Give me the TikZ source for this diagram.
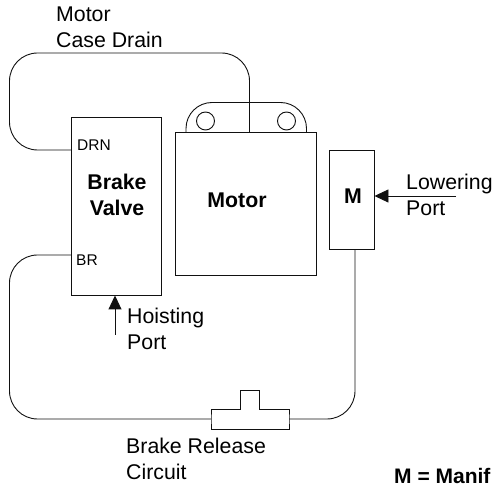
\documentclass[tikz,border=0pt]{standalone}
\usepackage{fontspec}
\setmainfont{Liberation Sans}
\usetikzlibrary{positioning,arrows.meta}
\definecolor{ink}{HTML}{111111}
\tikzset{
  block/.style={rectangle, draw=ink, line width=0.9pt, inner sep=0pt},
  title/.style={inner sep=0pt, font=\fontsize{21.3}{25.7}\selectfont\bfseries, align=center},
  port/.style={inner sep=0pt, font=\fontsize{15.5}{18}\selectfont, anchor=west},
  tag/.style={inner sep=0pt, font=\fontsize{21.3}{25.5}\selectfont, align=left, anchor=north west},
  pipe/.style={draw=ink, line width=0.9pt, rounded corners=28pt},
  feed/.style={-{Triangle[length=14pt,width=13pt]}, draw=ink, line width=0.9pt},
  lug/.style={circle, draw=ink, line width=0.9pt, minimum size=18pt, inner sep=0pt}
}
\begin{document}
\begin{tikzpicture}[x=1pt,y=-1pt]
\useasboundingbox (0,0) rectangle (493,486);
\node[block, minimum width=90pt, minimum height=178pt] (valve) at (116.5,206) {};
\node[block, minimum width=141pt, minimum height=143pt] (motor) at (246,203.5) {};
\node[block, minimum width=45pt, minimum height=99pt] (man) at (351.5,200) {};
\node[title] (vname) at (117,195) {Brake\\Valve};
\node[title] (mname) at (237,200) {Motor};
\node[title] (mlet) at (353,196) {M};
\node[port] (drn) at (77,145) {DRN};
\node[port] (br) at (76,260) {BR};
% motor lugs
\node[lug] (lugl) at (205.5,121) {};
\node[lug] (lugr) at (286.5,121) {};
\coordinate (topl) at (186,132);
\coordinate (topr) at (306.5,132);
\draw[draw=ink, line width=0.9pt, rounded corners=26pt] (topl) -- (186,102.5) -- (306.5,102.5) -- (topr);
% fitting on the brake circuit
\coordinate (teel) at (211,419);
\coordinate (teer) at (289,419);
\draw[draw=ink, line width=0.9pt] (teel) |- (240,409.5) |- (259.5,390) |- (289,409.5) -- (teer) |- (211,429) -- cycle;
% lines
\draw[pipe] (valve.west |- 0,150) -| (9.5,53) -| (249.5,132);
\draw[pipe] (valve.west |- 0,255) -| (9.5,419) -- (teel);
\draw[pipe] (teer) -| (355,249.5);
\coordinate (lowend) at (456,196);
\coordinate (hoistend) at (115,335);
\draw[feed] (lowend) -- (man.east |- lowend);
\draw[feed] (hoistend) -- (valve.south -| hoistend);
% labels
\node[tag] (case) at (56,7) {Motor\\Case Drain};
\node[tag] (low) at (406,174) {Lowering\\Port};
\node[tag] (hoist) at (127,308) {Hoisting\\Port};
\node[tag] (rel) at (126,438) {Brake Release\\Circuit};
\node[inner sep=0pt, font=\fontsize{21}{26}\selectfont\bfseries, anchor=base west] (key) at (394,483) {M = Manif};
\end{tikzpicture}
\end{document}
